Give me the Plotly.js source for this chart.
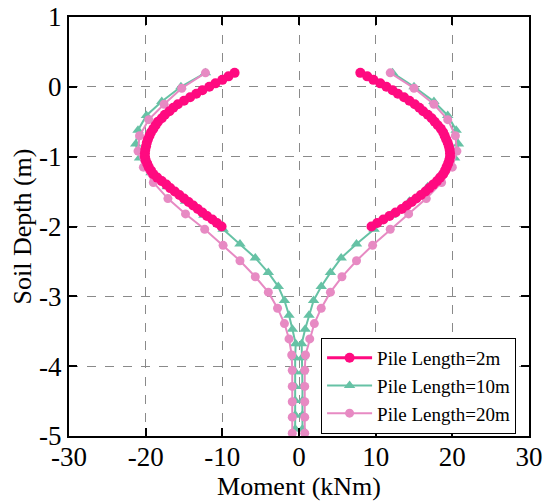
<!DOCTYPE html>
<html>
<head>
<meta charset="utf-8">
<script src="https://cdn.plot.ly/plotly-3.0.1.min.js"></script>
<style>html,body{margin:0;padding:0;background:#fff;}#chart{width:550px;height:503px;}</style>
</head>
<body>
<div id="chart"></div>
<script>
// Soil depth (m) for each pile length
const depth2 = [0.2,0.15,0.1,0.05,0.0,-0.05,-0.1,-0.15,-0.2,-0.25,-0.3,-0.35,-0.4,-0.45,-0.5,-0.55,-0.6,-0.65,-0.7,-0.75,-0.8,-0.85,-0.9,-0.95,-1.0,-1.05,-1.1,-1.15,-1.2,-1.25,-1.3,-1.35,-1.4,-1.45,-1.5,-1.55,-1.6,-1.65,-1.7,-1.75,-1.8,-1.85,-1.9,-1.95,-2.0];
const depth10 = [0.2,0.0,-0.21,-0.41,-0.62,-0.82,-1.02,-1.23,-1.43,-1.64,-1.84,-2.04,-2.25,-2.45,-2.66,-2.86,-3.06,-3.27,-3.47,-3.68,-3.88,-4.08,-4.29,-4.49,-4.7,-4.9];
const depth20 = [0.2,-0.02,-0.25,-0.47,-0.7,-0.92,-1.15,-1.37,-1.6,-1.82,-2.04,-2.27,-2.49,-2.72,-2.94,-3.17,-3.39,-3.61,-3.84,-4.06,-4.29,-4.51,-4.73,-4.96];

// Moment (kNm): negative branch and positive branch
const m2neg = [-8.4,-9.2,-10.0,-10.9,-11.7,-12.6,-13.4,-14.2,-15.0,-15.8,-16.4,-16.9,-17.5,-17.9,-18.4,-18.7,-19.0,-19.3,-19.5,-19.7,-19.85,-19.95,-20.05,-20.1,-20.1,-20.0,-19.8,-19.6,-19.3,-19.0,-18.5,-17.9,-17.3,-16.8,-16.2,-15.6,-15.0,-14.4,-13.8,-13.2,-12.6,-12.0,-11.3,-10.7,-10.1];
const m2pos = [8.0,8.9,9.7,10.6,11.4,12.2,12.9,13.7,14.4,15.1,15.7,16.2,16.8,17.3,17.7,18.1,18.5,18.8,19.0,19.2,19.4,19.55,19.65,19.7,19.7,19.6,19.45,19.25,19.05,18.8,18.4,18.0,17.5,17.0,16.5,15.9,15.3,14.7,14.05,13.4,12.6,11.8,11.0,10.2,9.45];
const m10neg = [-12.2,-15.4,-17.9,-19.9,-21.0,-21.3,-20.8,-19.3,-17.2,-14.8,-12.4,-9.9,-7.7,-5.7,-4.0,-2.7,-1.9,-1.3,-0.86,-0.43,-0.5,-0.5,-0.5,-0.5,-0.5,-0.5];
const m10pos = [12.2,15.0,17.6,19.4,20.5,20.8,20.3,18.7,16.8,14.4,12.0,9.8,7.5,5.5,4.1,2.9,1.9,1.3,0.8,0.35,0.4,0.45,0.45,0.45,0.45,0.45];
const m20neg = [-12.2,-15.3,-17.6,-19.6,-20.8,-21.0,-20.3,-19.0,-17.1,-14.8,-12.3,-9.9,-7.7,-5.7,-4.0,-2.8,-1.9,-1.3,-0.95,-0.88,-0.88,-0.88,-0.88,-0.88];
const m20pos = [11.9,15.0,17.6,19.4,20.4,20.6,20.0,18.6,16.6,14.3,11.9,9.6,7.5,5.6,4.1,2.9,2.0,1.4,0.85,0.75,0.75,0.75,0.75,0.75];

// Tick labels (hyphen minus as in the original)
const xTickVals = [-30,-20,-10,0,10,20,30];
const xTickText = ['-30','-20','-10','0','10','20','30'];
const yTickVals = [-5,-4,-3,-2,-1,0,1];
const yTickText = ['-5','-4','-3','-2','-1','0','1'];

const names = ['Pile Length=2m','Pile Length=10m','Pile Length=20m'];
const colors = ['#FF0A80','#66C2A5','#E78AC3'];
const FONT = 'Liberation Serif';

function branch(x, y, idx, showleg, sym, size, lw){
  return {
    x: x, y: y, type: 'scatter', mode: 'lines+markers',
    name: names[idx], showlegend: showleg, legendrank: idx+1,
    line: {color: colors[idx], width: lw},
    marker: {color: colors[idx], symbol: sym, size: size}
  };
}

const data = [
  branch(m10neg, depth10, 1, true, 'triangle-up', 10, 2),
  branch(m10pos, depth10, 1, false, 'triangle-up', 10, 2),
  branch(m20neg, depth20, 2, true, 'circle', 9, 2),
  branch(m20pos, depth20, 2, false, 'circle', 9, 2),
  branch(m2neg, depth2, 0, true, 'circle', 10, 3),
  branch(m2pos, depth2, 0, false, 'circle', 10, 3)
];

const layout = {
  width: 550, height: 503,
  margin: {l: 69, r: 21, t: 17, b: 67},
  paper_bgcolor: '#fff', plot_bgcolor: '#fff',
  font: {family: FONT, size: 26, color: '#000'},
  xaxis: {
    range: [-30, 30], tickmode: 'array', tickvals: xTickVals, ticktext: xTickText,
    showline: true, linecolor: '#000', linewidth: 2, mirror: 'ticks',
    ticks: 'inside', ticklen: 8, tickwidth: 2, tickcolor: '#000',
    showgrid: true, gridcolor: '#8a8a8a', gridwidth: 1, griddash: 'dash', zeroline: false,
    tickfont: {family: FONT, size: 27, color: '#000'},
    ticklabelstandoff: -4,
    title: {text: 'Moment (kNm)', font: {family: FONT, size: 26, color: '#000'}, standoff: 0}
  },
  yaxis: {
    range: [-5, 1], tickmode: 'array', tickvals: yTickVals, ticktext: yTickText,
    showline: true, linecolor: '#000', linewidth: 2, mirror: 'ticks',
    ticks: 'inside', ticklen: 8, tickwidth: 2, tickcolor: '#000',
    showgrid: true, gridcolor: '#8a8a8a', gridwidth: 1, griddash: 'dash', zeroline: false,
    tickfont: {family: FONT, size: 27, color: '#000'},
    title: {text: 'Soil Depth (m)', font: {family: FONT, size: 26, color: '#000'}, standoff: 0}
  },
  legend: {
    x: 0.548, y: 0.005, xanchor: 'left', yanchor: 'bottom',
    bgcolor: '#fff', bordercolor: '#000', borderwidth: 1,
    font: {family: FONT, size: 19, color: '#000'},
    itemwidth: 45, tracegroupgap: 0
  },
  showlegend: true
};

Plotly.newPlot('chart', data, layout, {displayModeBar: false});
</script>
</body>
</html>
